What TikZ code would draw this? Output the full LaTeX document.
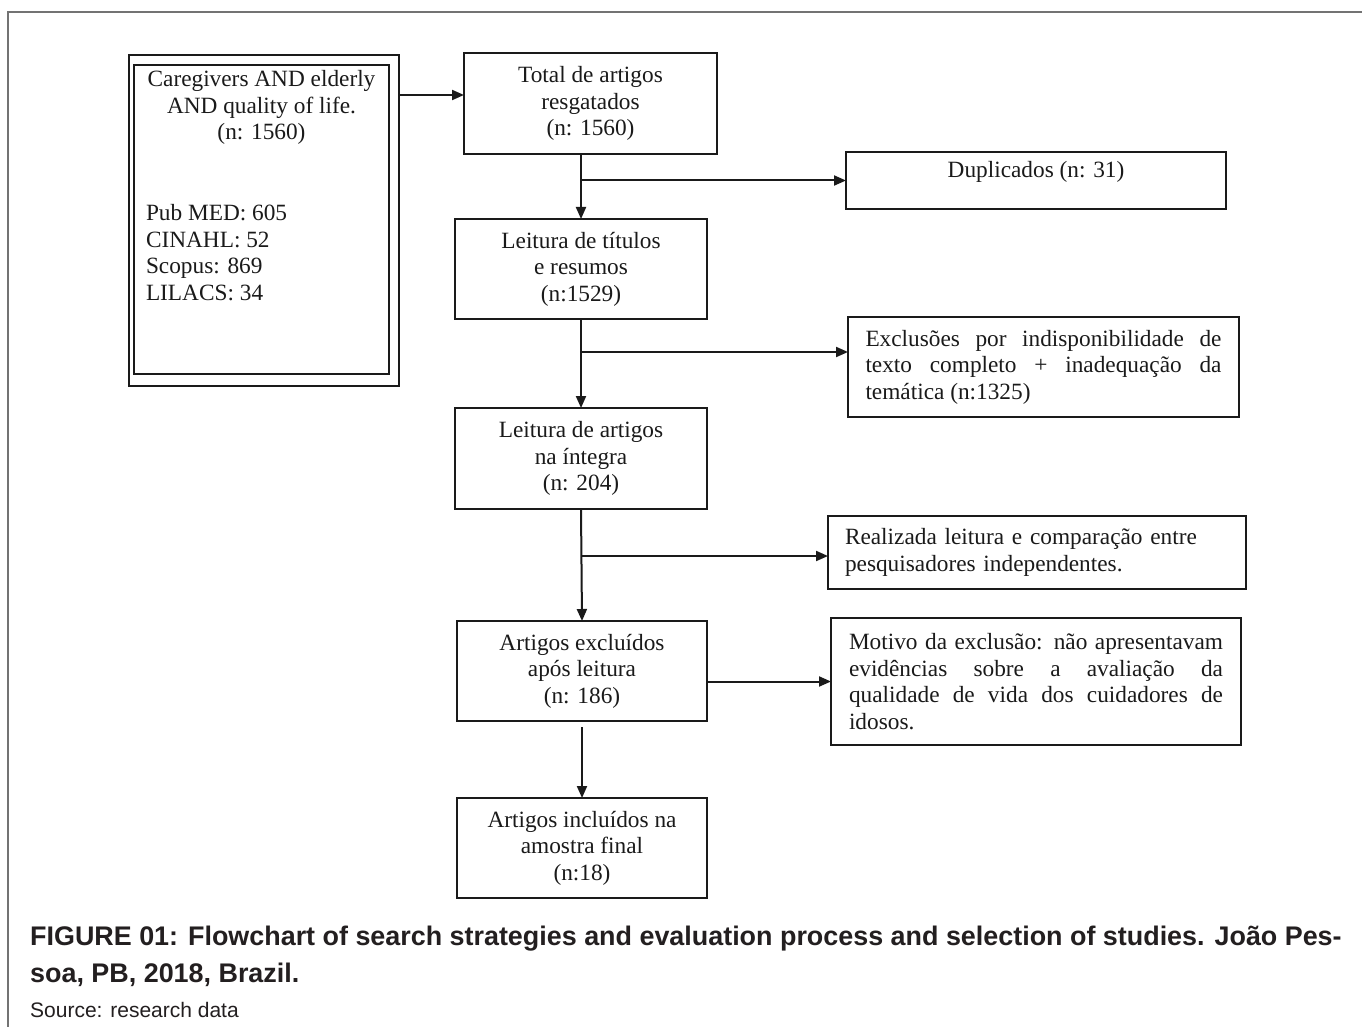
\documentclass[tikz,border=0pt]{standalone}
\usepackage{fontspec}
\setmainfont{Liberation Serif}
\newfontfamily\capfont{Liberation Sans}
\usetikzlibrary{arrows.meta}
\tolerance=10000
\hyphenpenalty=10000
\definecolor{ink}{HTML}{1A1A1A}
\definecolor{capink}{HTML}{231F20}
\tikzset{
  boxstyle/.style={draw=ink, line width=1.7pt, inner sep=0pt, outer sep=0pt, align=center,
    text=ink, font=\fontsize{23.3}{26.5}\selectfont},
  arr/.style={draw=ink, line width=2pt, -{Triangle[length=12pt,width=10pt]}},
  framestyle/.style={draw=black!55, line width=2pt},
  captxt/.style={anchor=base west, inner sep=0pt, text=capink}
}
\begin{document}
\begin{tikzpicture}[x=1pt,y=-1pt]
\useasboundingbox (0,0) rectangle (1362,1027);
\fill[white] (0,0) rectangle (1362,1027);
\draw[framestyle] (8,1027) -- (8,12) -- (1362,12);

% source box (double frame)
\node[boxstyle, minimum width=270pt, minimum height=331pt] (src) at (264,220.5) {};
\node[boxstyle, minimum width=255pt, minimum height=309pt] (srcin) at (261.5,219.5)
  {\parbox[c][298pt][t]{231pt}{\centering Caregivers AND elderly\\ AND quality of life.\\ (n: 1560)\par
   \vspace{54.5pt}\raggedright Pub MED: 605\\ CINAHL: 52\\ Scopus: 869\\ LILACS: 34\par}};

% main column
\node[boxstyle, minimum width=253pt, minimum height=101pt] (tot) at (590.5,103.5)
  {Total de artigos\\ resgatados\\ (n: 1560)};
\node[boxstyle, minimum width=252pt, minimum height=100pt] (l1) at (581,269)
  {Leitura de títulos\\ e resumos\\ (n:1529)};
\node[boxstyle, minimum width=252pt, minimum height=101pt] (l2) at (581,458.5)
  {Leitura de artigos\\ na íntegra\\ (n: 204)};
\node[boxstyle, minimum width=250pt, minimum height=100pt] (excl) at (582,671)
  {Artigos excluídos\\ após leitura\\ (n: 186)};
\node[boxstyle, minimum width=250pt, minimum height=100pt] (incl) at (582,848)
  {Artigos incluídos na\\ amostra final\\ (n:18)};

% side boxes
\node[boxstyle, minimum width=380pt, minimum height=57pt, text depth=22pt] (dup) at (1036,180.5)
  {Duplicados (n: 31)};
\node[boxstyle, minimum width=391pt, minimum height=100pt, text width=356pt, align=justify] (exc) at (1043.5,367)
  {Exclusões por indisponibilidade de\linebreak texto completo + inadequação da\linebreak temática (n:1325)};
\node[boxstyle, minimum width=418pt, minimum height=73pt, text width=384pt, align=left] (real) at (1037,552.5)
  {Realizada leitura e comparação entre\\ pesquisadores independentes.};
\node[boxstyle, minimum width=410pt, minimum height=127pt, text width=374pt, align=justify] (mot) at (1036,681.5)
  {Motivo da exclusão: não apresentavam\linebreak evidências sobre a avaliação da\linebreak qualidade de vida dos cuidadores de\linebreak idosos.};

% connectors
\coordinate (a1) at (0,95);
\coordinate (b2) at (0,352);
\coordinate (b3) at (0,556);
\draw[arr] (src.east |- a1) -- (tot.west |- a1);
\draw[arr] (tot.south -| l1.north) -- (l1.north);
\draw[arr] (l1.north |- dup.west) -- (dup.west);
\draw[arr] (l1.south) -- (l2.north);
\draw[arr] (l1.south |- b2) -- (exc.west |- b2);
\draw[arr] (l2.south) -- (excl.north);
\draw[arr] (l2.south |- b3) -- (real.west |- b3);
\draw[arr] (excl.east |- mot.west) -- (mot.west);
\draw[arr] ([yshift=-6pt]excl.south) -- (incl.north);

% caption
\node[captxt, font=\capfont\bfseries\fontsize{26.9}{32}\selectfont] (cap1) at (30,945)
  {FIGURE 01: Flowchart of search strategies and evaluation process and selection of studies. João Pes-};
\node[captxt, font=\capfont\bfseries\fontsize{26.9}{32}\selectfont] (cap2) at (30,982)
  {soa, PB, 2018, Brazil.};
\node[captxt, font=\capfont\fontsize{21}{25}\selectfont] (srcnote) at (30,1017)
  {Source: research data};
\end{tikzpicture}
\end{document}
